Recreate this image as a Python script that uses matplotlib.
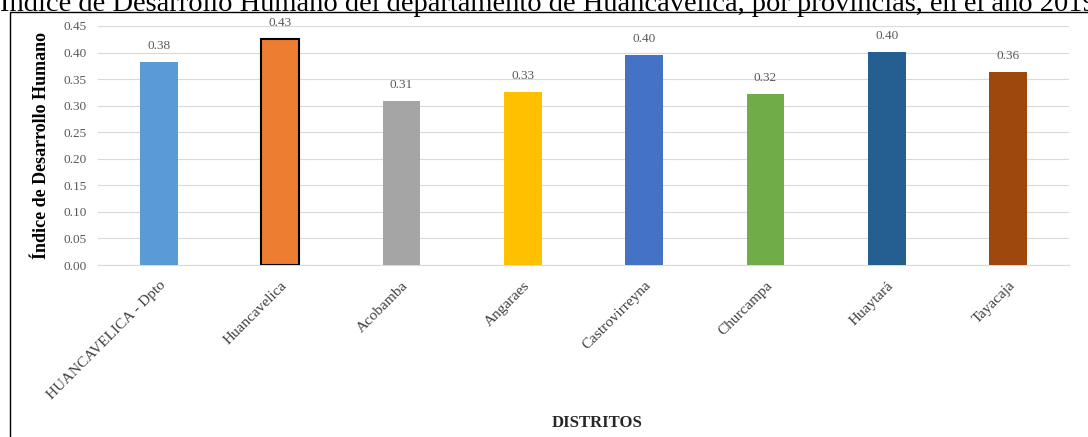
import numpy as np
import matplotlib.pyplot as plt
from matplotlib.patches import Rectangle

# data
provincias = ["HUANCAVELICA - Dpto", "Huancavelica", "Acobamba", "Angaraes",
              "Castrovirreyna", "Churcampa", "Huaytará", "Tayacaja"]
idh = [0.383, 0.426, 0.309, 0.326, 0.396, 0.322, 0.401, 0.364]
etiquetas = ["0.38", "0.43", "0.31", "0.33", "0.40", "0.32", "0.40", "0.36"]
colores = ["#5B9BD5", "#ED7D31", "#A5A5A5", "#FFC000",
           "#4472C4", "#70AD47", "#255E91", "#9E480E"]
yticks = np.arange(0, 0.451, 0.05)

plt.rcParams['font.family'] = ['Liberation Serif', 'DejaVu Serif']

W, H = 1088, 437
fig = plt.figure(figsize=(W / 100, H / 100), dpi=100)

# outer frame (cut off right and bottom as in the reference)
fig.patches.append(Rectangle((10 / W, -0.05), 1.1, 1 - 12 / H + 0.05,
                             transform=fig.transFigure, fill=False,
                             edgecolor="black", linewidth=1.0))

ax = fig.add_axes([98 / W, 1 - 265 / H, (1069 - 98) / W, (265 - 26) / H])
x = np.arange(len(provincias))
bars = ax.bar(x, idh, width=0.31, color=colores, zorder=3)
bars[1].set_edgecolor("black")
bars[1].set_linewidth(1.5)

for xi, v, t in zip(x, idh, etiquetas):
    ax.annotate(t, (xi, v), xytext=(0, 7), textcoords="offset points",
                ha="center", va="bottom", fontsize=9.5, color="#595959")

ax.set_xlim(-0.5, len(provincias) - 0.5)
ax.set_ylim(0, 0.45)
ax.set_yticks(yticks)
ax.set_yticklabels([f"{v:.2f}" for v in yticks], fontsize=9.5, color="#595959")
ax.yaxis.grid(True, color="#D9D9D9", linewidth=0.8, zorder=0)
ax.tick_params(axis="both", length=0)
ax.tick_params(axis="y", pad=8)
for s in ["top", "right", "left"]:
    ax.spines[s].set_visible(False)
ax.spines["bottom"].set_color("#D9D9D9")

ax.set_xticks(x)
ax.set_xticklabels(provincias, rotation=45, ha="right", rotation_mode="anchor",
                   fontsize=11, color="#404040")
ax.tick_params(axis="x", pad=10)

ax.set_ylabel("Índice de Desarrollo Humano", fontsize=13, fontweight="bold")
ax.yaxis.set_label_coords(-(98 - 50) / (1069 - 98), 0.5)
fig.text(597 / W, 1 - 423 / H, "DISTRITOS", ha="center", va="center",
         fontsize=12, fontweight="bold", color="#262626")

fig.text(0.0, 1 - 11 / H,
         "Índice de Desarrollo Humano del departamento de Huancavelica, "
         "por provincias, en el año 2019",
         ha="left", va="baseline", fontsize=20.5)

fig.savefig("out.png", dpi=100)
